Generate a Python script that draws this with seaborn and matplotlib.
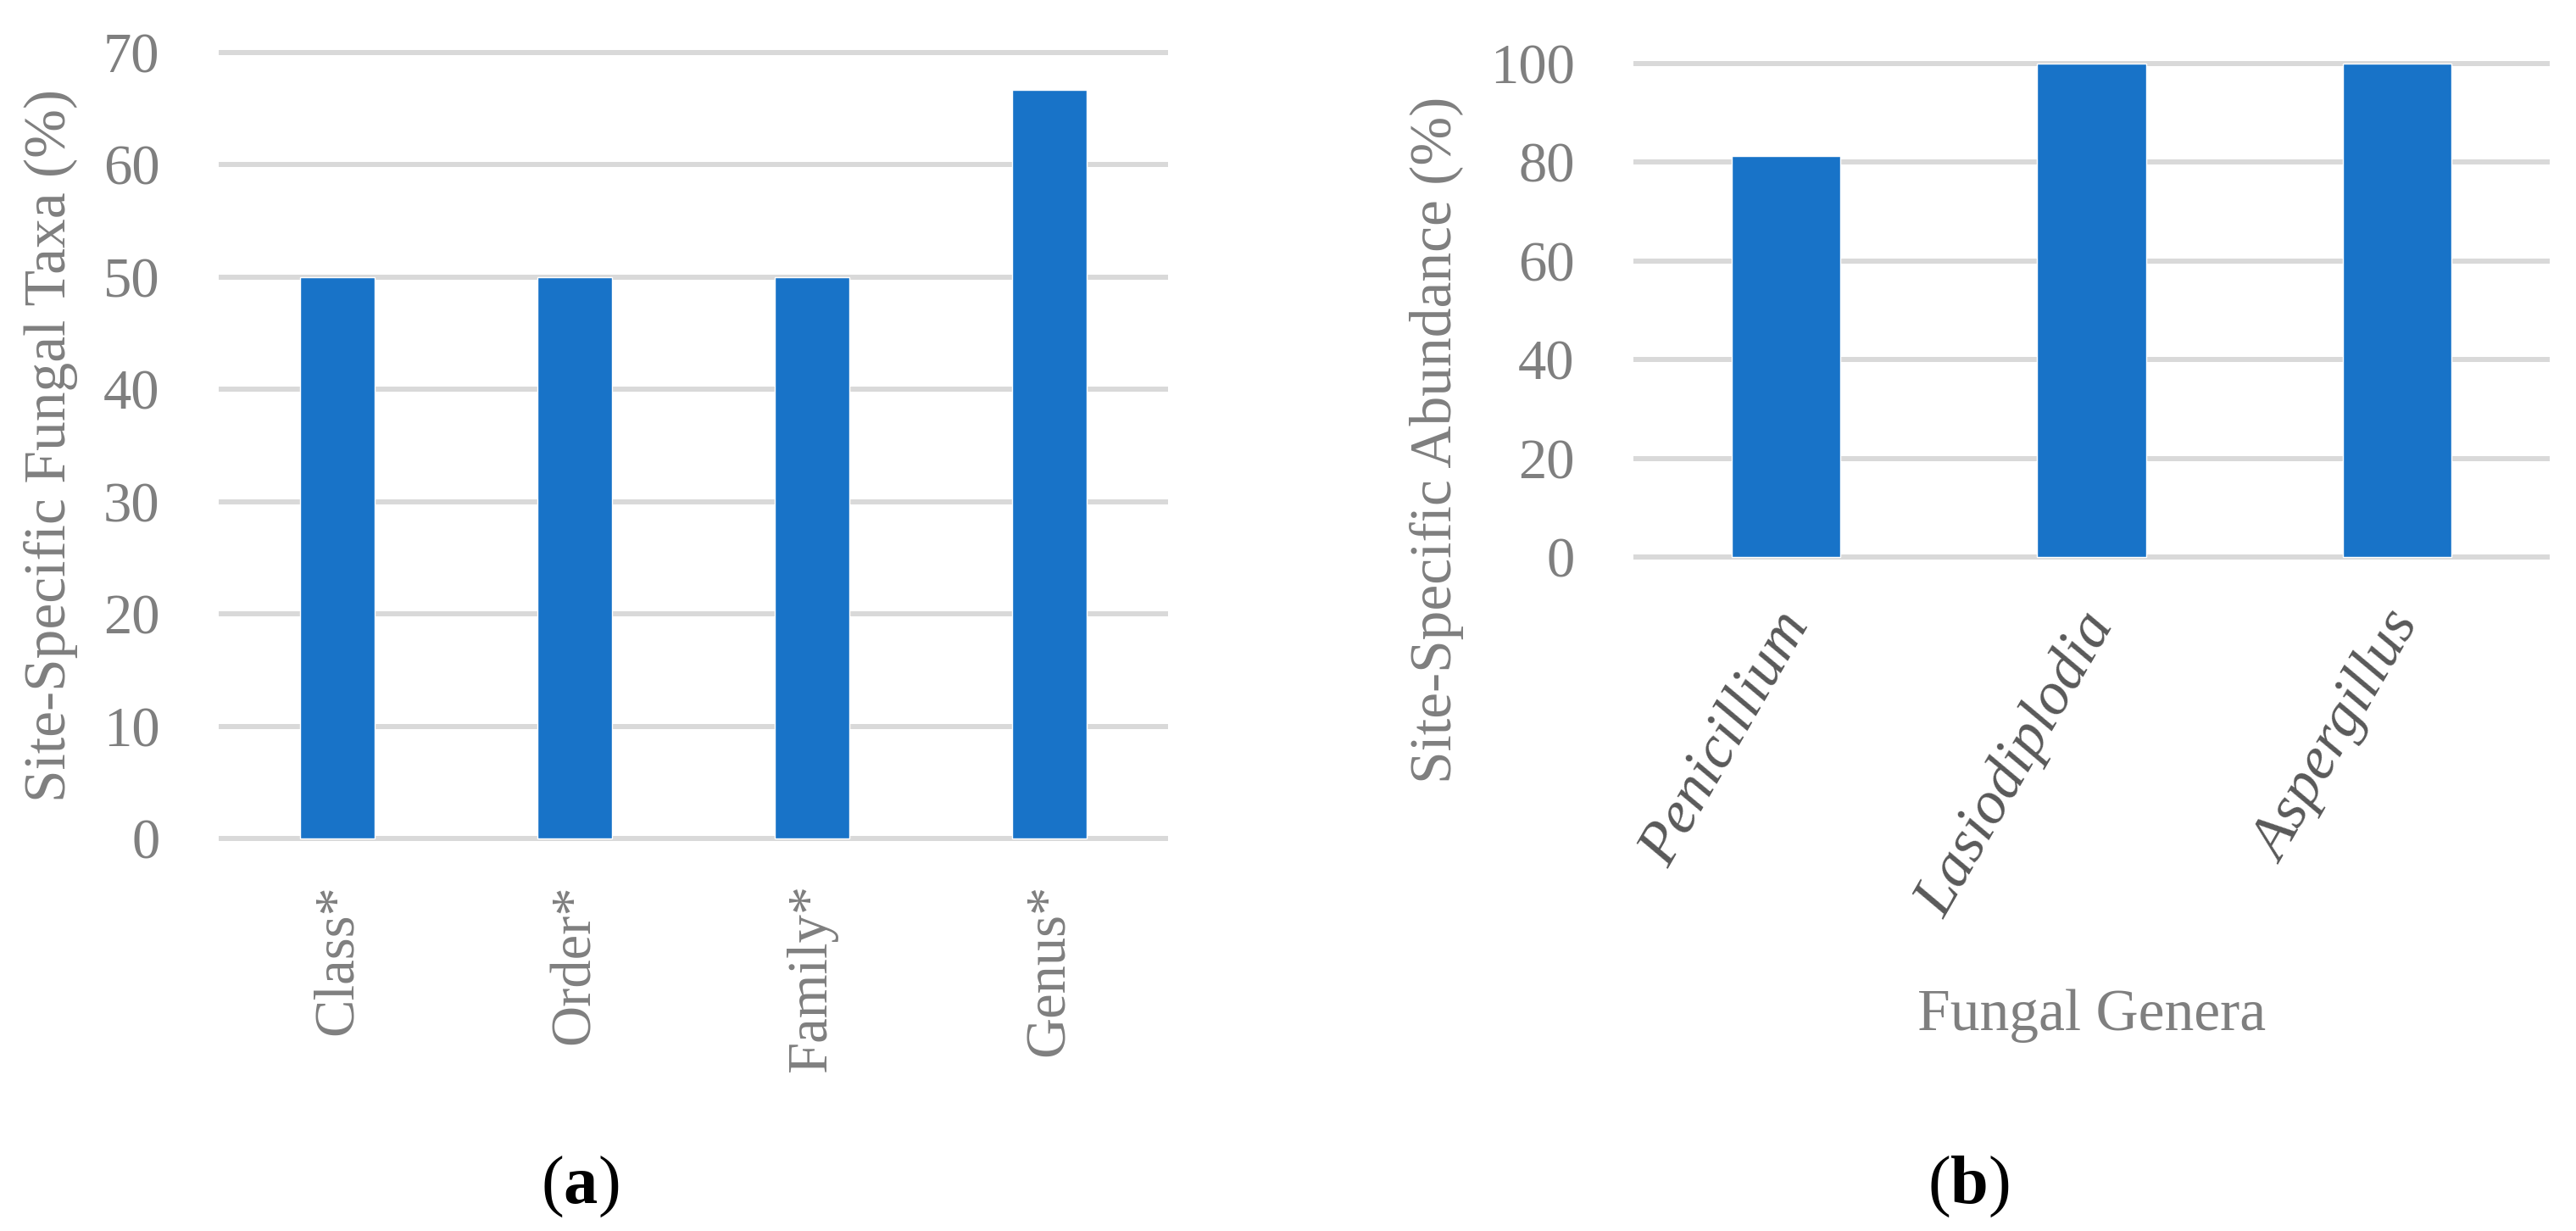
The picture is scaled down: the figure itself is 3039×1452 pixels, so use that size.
import matplotlib
matplotlib.use("Agg")
import matplotlib.pyplot as plt
from matplotlib.transforms import ScaledTranslation
import seaborn as sns
import pandas as pd

# ---- data ----
taxa_levels = ["Class*", "Order*", "Family*", "Genus*"]
taxa_values = [50.0, 50.0, 50.0, 66.7]
taxa_ticks = [0, 10, 20, 30, 40, 50, 60, 70]

genera = ["Penicillium", "Lasiodiplodia", "Aspergillus"]
genera_values = [81.2, 100.0, 100.0]
genera_ticks = [0, 20, 40, 60, 80, 100]

ylabel_a = "Site-Specific Fungal Taxa (%)"
ylabel_b = "Site-Specific Abundance (%)"
xlabel_b = "Fungal Genera"

BAR = "#1873C8"
GRID = "#D9D9D9"
GRAY = "#7F7F7F"
DARK = "#595959"

sns.set_theme(style="white")
plt.rcParams["font.family"] = ["Liberation Serif", "DejaVu Serif"]
plt.rcParams["mathtext.fontset"] = "custom"
plt.rcParams["mathtext.rm"] = "Liberation Serif"
plt.rcParams["mathtext.bf"] = "Liberation Serif:bold"

W, H = 3039, 1452
fig = plt.figure(figsize=(W / 100, H / 100), dpi=100)


def axes_rect(x0, x1, ytop, ybot):
    return [x0 / W, 1 - ybot / H, (x1 - x0) / W, (ybot - ytop) / H]


# panel a: 70 at y=62, 0 at y=989 ; pad 0.5 units
pa = 0.5
ppu_a = (989 - 62) / 70
ax1 = fig.add_axes(axes_rect(258, 1378, 62 - pa * ppu_a, 989 + pa * ppu_a))
# panel b: 100 at y=75, 0 at y=657
pb = 0.7
ppu_b = (657 - 75) / 100
ax2 = fig.add_axes(axes_rect(1927, 3008, 75 - pb * ppu_b, 657 + pb * ppu_b))

df_a = pd.DataFrame({"level": taxa_levels, "value": taxa_values})
df_b = pd.DataFrame({"genus": genera, "value": genera_values})

sns.barplot(data=df_a, x="level", y="value", color=BAR, saturation=1,
            width=0.315, ax=ax1)
sns.barplot(data=df_b, x="genus", y="value", color=BAR, saturation=1,
            width=0.357, ax=ax2)

for ax, ticks, pad in ((ax1, taxa_ticks, pa), (ax2, genera_ticks, pb)):
    ax.set_ylim(ticks[0] - pad, ticks[-1] + pad)
    ax.set_yticks(ticks)
    ax.set_axisbelow(True)
    ax.yaxis.grid(True, color=GRID, linewidth=4.3)
    ax.xaxis.grid(False)
    for s in ax.spines.values():
        s.set_visible(False)
    ax.tick_params(axis="both", length=0)
    ax.tick_params(axis="y", labelsize=48, labelcolor=GRAY, pad=50)
    ax.set_xlabel("")
    ax.set_ylabel("")

# x tick labels
ax1.tick_params(axis="x", labelsize=48, labelcolor=GRAY, pad=34)
for lab in ax1.get_xticklabels():
    lab.set_rotation(90)
    lab.set_ha("center")
    lab.set_va("top")

ax2.tick_params(axis="x", labelsize=52, labelcolor=DARK, pad=36)
shift = ScaledTranslation(40 / 100, 0, fig.dpi_scale_trans)
for lab in ax2.get_xticklabels():
    lab.set_rotation(60)
    lab.set_ha("right")
    lab.set_va("top")
    lab.set_style("italic")
    lab.set_transform(lab.get_transform() + shift)

# axis labels
ax1.set_ylabel(ylabel_a, fontsize=50, color=GRAY)
ax1.yaxis.set_label_coords((60 - 258) / 1120, 0.5)
ax1.yaxis.label.set_va("center")

ax2.set_ylabel(ylabel_b, fontsize=50, color=GRAY)
ax2.yaxis.set_label_coords((1695 - 1927) / 1081, (657 - 516.5) / 582)
ax2.yaxis.label.set_va("center")

ax2.set_xlabel(xlabel_b, fontsize=50, color=GRAY)
ax2.xaxis.set_label_coords(0.5, (657 - 1187) / 582)
ax2.xaxis.label.set_va("center")

# panel letters
fig.text(684 / W, 1 - 1400 / H, r"($\mathbf{a}$)", fontsize=58, color="black",
         ha="center", va="center")
fig.text(2322 / W, 1 - 1400 / H, r"($\mathbf{b}$)", fontsize=58, color="black",
         ha="center", va="center")

fig.savefig("out.png", dpi=100, facecolor="white")
